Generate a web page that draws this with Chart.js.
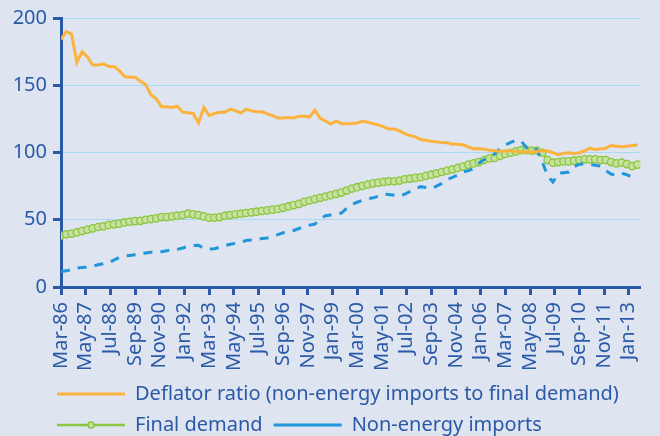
<!DOCTYPE html>
<html>
<head>
<meta charset="utf-8">
<script src="https://cdn.jsdelivr.net/npm/chart.js@4.4.1/dist/chart.umd.min.js"></script>
<style>
  html, body { margin: 0; padding: 0; background: #dfe4f1; overflow: hidden; }
  #wrap { width: 660px; height: 436px; }
</style>
</head>
<body>
<div id="wrap"><canvas id="deflatorChart" width="660" height="436"></canvas></div>
<script>
// quarterly values, first point Mar-86, one point every 3 months up to Jun-13
const deflatorRatio = [
    184, 190, 188, 167, 175, 171, 165, 165, 166, 164,
    164, 161, 156.5, 156, 156, 153, 150.5, 143, 140, 134,
    134, 133.5, 134.5, 130, 129.5, 129, 122, 133.5, 127.5, 129,
    130, 130, 132.3, 131, 129.3, 132.3, 131, 130.3, 130.3, 128.8,
    127.4, 125.6, 125.6, 126, 125.6, 127, 127, 126.4, 131.5, 125.4,
    123.4, 121.2, 123.4, 121.5, 121.3, 121.5, 122, 123.2, 122.5, 121.5,
    120.5, 119, 117.5, 117.5, 116, 114, 112.6, 111.6, 109.6, 109.1,
    108.4, 107.9, 107.4, 107.2, 106.2, 106.2, 105.7, 104.2, 102.7, 103,
    102.5, 101.6, 101.3, 100.8, 101.3, 101.3, 100.8, 100.3, 100.3, 100.3,
    100.8, 101.3, 101.3, 99.8, 98.3, 99.3, 99.8, 99.3, 99.8, 101.3,
    103.2, 102.2, 102.7, 103.2, 105.2, 104.7, 104.2, 104.7, 105.2, 105.5
];
const finalDemand = [
    38.2, 39.2, 39.7, 40.6, 41.6, 42.6, 43.6, 44.6, 45.1, 46.1,
    46.6, 47.1, 48, 48.5, 49, 49.2, 50, 50.5, 51, 52,
    52, 52.5, 53, 53.5, 54.5, 54, 53.5, 52.5, 51.5, 51.5,
    52, 53, 53.5, 54, 54.5, 55, 55.5, 56, 56.5, 57,
    57.5, 58, 58.9, 59.9, 60.9, 61.8, 63.3, 64.3, 65.3, 66.3,
    67.3, 68.2, 69.2, 70.2, 71.7, 73.2, 74.2, 75.2, 76.2, 77.1,
    77.6, 78.1, 78.6, 78.6, 79.1, 80.1, 80.6, 81.1, 81.6, 82.6,
    83.5, 84.5, 85.5, 86.5, 87.5, 88.5, 89.5, 91, 91.9, 92.9,
    94.4, 95.6, 95.9, 97.4, 98.9, 99.8, 100.8, 101.8, 101.8, 101.3,
    101.3, 99.8, 94.4, 92.4, 92.9, 93.4, 93.4, 93.9, 94.4, 94.9,
    94.9, 94.9, 94.4, 94.4, 92.9, 91.9, 92.4, 91.4, 89.9, 91
];
const nonEnergyImports = [
    11.5, 12, 13, 14, 14.5, 14.8, 15.5, 16.5, 17.3, 18,
    20, 22, 23, 23.5, 24, 24.5, 25.3, 25.8, 26, 26.2,
    27, 27.8, 28, 29, 30.2, 30.8, 31, 28.8, 28.2, 28.5,
    29.5, 30.8, 31.8, 32.5, 33.5, 34.5, 35, 35.3, 36, 36.5,
    37.5, 39, 40.3, 41, 42, 43.5, 45, 46, 46.8, 50.5,
    53, 53.5, 54, 55, 58.5, 61.5, 63, 64.5, 65.5, 66.3,
    67.5, 69, 68.8, 68.2, 67.6, 69, 71, 73, 74.6, 74,
    73.2, 75, 77, 80, 81.5, 83.2, 85.5, 86.5, 88, 92,
    94.8, 96.5, 99, 103, 105.5, 107.5, 109, 108.5, 103.5, 104.7,
    102, 93, 82.5, 78, 84.5, 85, 85.5, 89.5, 91.3, 91.5,
    91, 90.5, 90, 86.5, 84, 83, 84.5, 83.5, 81.5, 83
];
const tickLabels = [
    'Mar-86', 'May-87', 'Jul-88', 'Sep-89', 'Nov-90', 'Jan-92', 'Mar-93', 'May-94',
    'Jul-95', 'Sep-96', 'Nov-97', 'Jan-99', 'Mar-00', 'May-01', 'Jul-02', 'Sep-03',
    'Nov-04', 'Jan-06', 'Mar-07', 'May-08', 'Jul-09', 'Sep-10', 'Nov-11', 'Jan-13'
];
const tickStep = 14; // months between two axis labels

const navy = '#2a5aa7';
const fontFamily = '"Noto Sans", "DejaVu Sans", sans-serif';

// x is months since Mar-86
const toPoints = values => values.map((v, i) => ({ x: i * 3, y: v }));

// legend sits under the plot, not at the canvas edge, and the
// "Final demand" entry gets its little marker in the middle
const legendTweaks = {
    id: 'legendTweaks',
    afterLayout(chart) {
        chart.legend.left = 46;
    },
    afterDraw(chart) {
        const legend = chart.legend;
        const idx = legend.legendItems.findIndex(item => item.datasetIndex === 1);
        const box = legend.legendHitBoxes[idx];
        if (!box) return;
        const ctx = chart.ctx;
        ctx.save();
        ctx.beginPath();
        ctx.arc(box.left + legend.options.labels.boxWidth / 2, box.top + box.height / 2, 3, 0, Math.PI * 2);
        ctx.fillStyle = '#c6e1a0';
        ctx.strokeStyle = '#8cc63e';
        ctx.lineWidth = 1.5;
        ctx.fill();
        ctx.stroke();
        ctx.restore();
    }
};

new Chart(document.getElementById('deflatorChart'), {
    type: 'line',
    data: {
        datasets: [{
            label: 'Deflator ratio (non-energy imports to final demand)',
            data: toPoints(deflatorRatio),
            borderColor: '#fbb33e',
            backgroundColor: '#fbb33e',
            borderWidth: 3,
            pointRadius: 0,
            tension: 0,
            order: 0,
        }, {
            label: 'Final demand',
            data: toPoints(finalDemand),
            borderColor: '#8cc63e',
            backgroundColor: '#8cc63e',
            borderWidth: 2.5,
            pointRadius: 3.7,
            pointBorderWidth: 1.3,
            pointBorderColor: '#8cc63e',
            pointBackgroundColor: '#c6e1a0',
            tension: 0,
            order: 2,
        }, {
            label: 'Non-energy imports',
            data: toPoints(nonEnergyImports),
            borderColor: '#1f97d8',
            backgroundColor: '#1f97d8',
            borderWidth: 3,
            borderDash: [9, 8],
            pointRadius: 0,
            tension: 0,
            order: 1,
        }]
    },
    options: {
        responsive: false,
        animation: false,
        layout: { padding: { left: 0, right: 12, top: 16, bottom: 0 } },
        plugins: {
            legend: {
                position: 'bottom',
                align: 'start',
                maxHeight: 63,
                labels: {
                    boxWidth: 68,
                    boxHeight: 0,
                    padding: 11,
                    color: navy,
                    font: { family: fontFamily, size: 20 },
                    sort: (a, b) => a.datasetIndex - b.datasetIndex,
                }
            },
            tooltip: { enabled: false },
        },
        scales: {
            x: {
                type: 'linear',
                min: 0,
                max: 328.5,
                afterBuildTicks: scale => {
                    scale.ticks = tickLabels.map((t, i) => ({ value: i * tickStep }));
                },
                afterFit: scale => { scale.height = 86; },
                grid: {
                    drawOnChartArea: false,
                    drawTicks: true,
                    tickLength: 8,
                    tickWidth: 3,
                    tickColor: navy,
                },
                border: { color: navy, width: 3 },
                ticks: {
                    autoSkip: false,
                    maxRotation: 90,
                    minRotation: 90,
                    padding: 7,
                    color: navy,
                    font: { family: fontFamily, size: 20 },
                    callback: (value, index) => tickLabels[index],
                }
            },
            y: {
                min: 0,
                max: 200,
                afterFit: scale => { scale.width = 61; },
                grid: {
                    color: '#a9daf3',
                    lineWidth: 1,
                    tickLength: 8,
                    tickWidth: 3,
                    tickColor: navy,
                },
                border: { color: navy, width: 3 },
                ticks: {
                    stepSize: 50,
                    padding: 6,
                    color: navy,
                    font: { family: fontFamily, size: 20 },
                }
            }
        }
    },
    plugins: [legendTweaks]
});
</script>
</body>
</html>
